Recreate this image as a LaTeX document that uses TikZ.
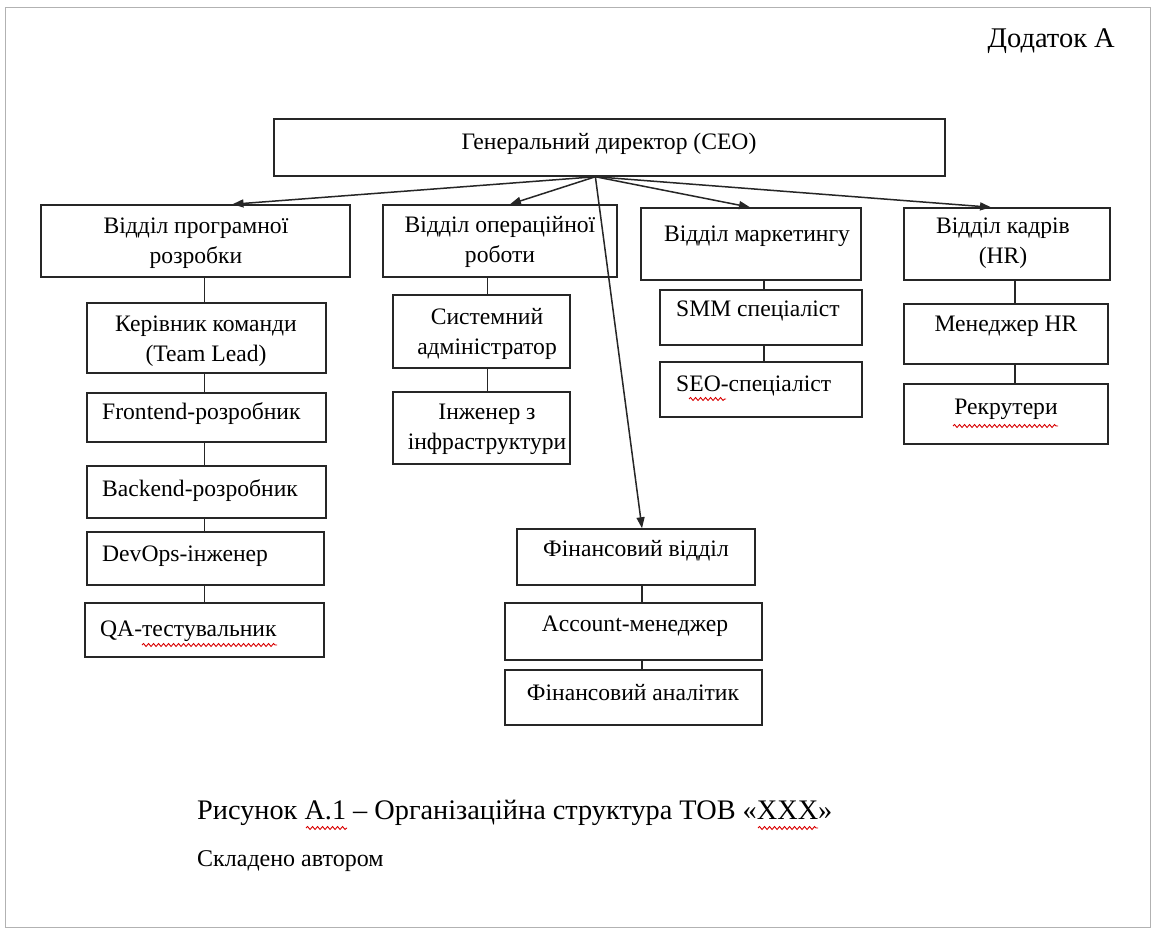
\documentclass[tikz,border=0pt]{standalone}
\usepackage{fontspec}
\setmainfont{Liberation Serif}
\usetikzlibrary{arrows.meta,fit,decorations.pathmorphing,calc}
\newcommand{\obox}[5]{%
  \coordinate (#1-a) at (#2,-#3);
  \coordinate (#1-b) at (#4,-#5);
  \node[box, fit=(#1-a)(#1-b)] (#1) {};}
\begin{document}
\begin{tikzpicture}[x=1pt,y=1pt,
  box/.style={draw=black!85, line width=1.5pt, inner sep=0pt, rectangle},
  lbl/.style={font=\fontsize{23.6}{30}\selectfont, align=center, inner sep=0pt, text=black},
  arr/.style={draw=black!85, line width=1.5pt, -{Triangle[length=11pt,width=8pt]}},
  ln/.style={draw=black!85, line width=1.4pt},
  squig/.style={draw=red!85!black, line width=0.9pt, decorate, decoration={snake, amplitude=1.5pt, segment length=5pt}}]

\useasboundingbox (0,0) rectangle (1156,-931);
\fill[white] (0,0) rectangle (1156,-931);
\draw[black!30, line width=1pt] (5,-8) rectangle (1150,-927);

% boxes
\obox{ceo}{274}{119}{945}{176}
\obox{prog}{41}{205}{350}{277}
\obox{ops}{383}{205}{617}{277}
\obox{mkt}{641}{208}{861}{280}
\obox{hr}{904}{208}{1110}{280}
\obox{tl}{87}{303}{326}{373}
\obox{fe}{87}{393}{326}{442}
\obox{be}{87}{466}{326}{518}
\obox{dev}{87}{532}{324}{585}
\obox{qa}{85}{603}{324}{657}
\obox{sys}{393}{295}{570}{368}
\obox{inf}{393}{392}{570}{464}
\obox{fin}{517}{529}{755}{585}
\obox{acc}{505}{603}{762}{660}
\obox{fan}{505}{670}{762}{725}
\obox{smm}{660}{290}{862}{345}
\obox{seo}{660}{362}{862}{417}
\obox{mhr}{904}{304}{1108}{364}
\obox{rec}{904}{384}{1108}{444}

% labels
\node[lbl] (ceo-t) at (609,-144) {Генеральний директор (CEO)};
\node[lbl] (prog-t) at (196,-243) {Відділ програмної\\розробки};
\node[lbl] (ops-t) at (500,-242) {Відділ операційної\\роботи};
\node[lbl] (mkt-t) at (757,-236) {Відділ маркетингу};
\node[lbl] (hr-t) at (1003,-243) {Відділ кадрів\\(HR)};
\node[lbl] (tl-t) at (206,-341) {Керівник команди\\(Team Lead)};
\node[lbl, anchor=west] (fe-t) at (102,-414) {Frontend-розробник};
\node[lbl, anchor=west] (be-t) at (102,-491) {Backend-розробник};
\node[lbl, anchor=west] (dev-t) at (102,-556) {DevOps-інженер};
\node[lbl, anchor=west] (qa-t) at (100,-631) {QA-тестувальник};
\node[lbl] (sys-t) at (487,-334) {Системний\\адміністратор};
\node[lbl] (inf-t) at (487,-429) {Інженер з\\інфраструктури};
\node[lbl] (fin-t) at (636,-551) {Фінансовий відділ};
\node[lbl] (acc-t) at (635,-626) {Account-менеджер};
\node[lbl] (fan-t) at (633,-693) {Фінансовий аналітик};
\node[lbl, anchor=west] (smm-t) at (676,-311) {SMM спеціаліст};
\node[lbl, anchor=west] (seo-t) at (676,-386) {SEO-спеціаліст};
\node[lbl] (mhr-t) at (1006,-326) {Менеджер HR};
\node[lbl] (rec-t) at (1006,-409) {Рекрутери};

\node[lbl, font=\fontsize{28.5}{32}\selectfont, anchor=east] (app) at (1115,-41) {Додаток А};
\node[lbl, font=\fontsize{28.3}{32}\selectfont, anchor=west] (cap) at (197,-813) {Рисунок А.1 – Організаційна структура ТОВ «ХХХ»};
\node[lbl, font=\fontsize{24}{28}\selectfont, anchor=west] (src-t) at (197,-861) {Складено автором};

% arrows from CEO
\coordinate (src) at ($(ceo.south west)!0.479!(ceo.south east)$);
\draw[arr] (src) -- ([xshift=37pt]prog.north);
\draw[arr] (src) -- ([xshift=10pt]ops.north);
\draw[arr] (src) -- ([xshift=-1pt]mkt.north);
\draw[arr] (src) -- ([xshift=-16pt]hr.north);
\draw[arr] (src) -- ([xshift=6pt]fin.north);

% vertical connectors
\draw[ln] ([xshift=-2pt]tl.north) -- ([xshift=-2pt]tl.north |- prog.south);
\draw[ln] ([xshift=-2pt]tl.south) -- ([xshift=-2pt]tl.south |- fe.north);
\draw[ln] ([xshift=-2pt]fe.south) -- ([xshift=-2pt]fe.south |- be.north);
\draw[ln] ([xshift=-2pt]be.south) -- ([xshift=-2pt]be.south |- dev.north);
\draw[ln] ([xshift=-1pt]dev.south) -- ([xshift=-1pt]dev.south |- qa.north);
\draw[ln] ([xshift=6pt]sys.north) -- ([xshift=6pt]sys.north |- ops.south);
\draw[ln] ([xshift=6pt]sys.south) -- ([xshift=6pt]sys.south |- inf.north);
\draw[ln] ([xshift=3pt]smm.north) -- ([xshift=3pt]smm.north |- mkt.south);
\draw[ln] ([xshift=3pt]smm.south) -- ([xshift=3pt]smm.south |- seo.north);
\draw[ln] ([xshift=9pt]mhr.north) -- ([xshift=9pt]mhr.north |- hr.south);
\draw[ln] ([xshift=9pt]mhr.south) -- ([xshift=9pt]mhr.south |- rec.north);
\draw[ln] ([xshift=6pt]fin.south) -- ([xshift=6pt]fin.south |- acc.north);
\draw[ln] ([xshift=8.5pt]acc.south) -- ([xshift=8.5pt]acc.south |- fan.north);

% spelling squiggles
\draw[squig] (142,-645) -- (277,-645);
\draw[squig] (689,-399) -- (726,-399);
\draw[squig] (953,-426) -- (1058,-426);
\draw[squig] (306,-828) -- (347,-828);
\draw[squig] (758,-828) -- (818,-828);
\end{tikzpicture}
\end{document}
